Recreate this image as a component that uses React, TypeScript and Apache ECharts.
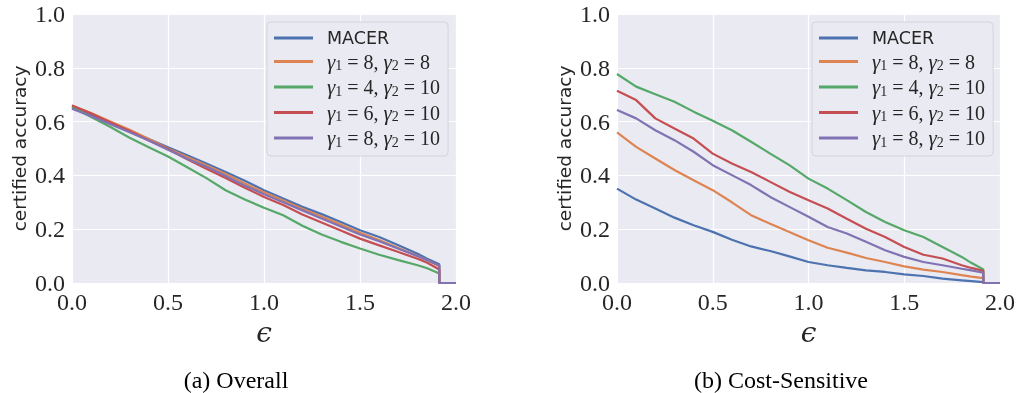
import React, { useEffect, useRef } from "react";
import * as echarts from "echarts";

const EPS = [0, 0.1, 0.2, 0.3, 0.4, 0.5, 0.6, 0.7, 0.8, 0.9, 1.0, 1.1, 1.2, 1.3, 1.4, 1.5, 1.6, 1.7, 1.8, 1.85, 1.913, 1.913, 2.0];

const SERIES_NAMES = ["MACER", "g8_8", "g4_10", "g6_10", "g8_10"];
const COLORS = ["#4C72B0", "#DD8452", "#55A868", "#C44E52", "#8172B3"];

// (a) Overall
const OVERALL_MACER = [0.65, 0.625, 0.595, 0.565, 0.535, 0.505, 0.475, 0.444, 0.413, 0.38, 0.345, 0.314, 0.283, 0.256, 0.227, 0.196, 0.171, 0.14, 0.109, 0.09, 0.07, 0, 0];
const OVERALL_G8_8 = [0.66, 0.632, 0.6, 0.57, 0.535, 0.5, 0.468, 0.438, 0.405, 0.37, 0.337, 0.307, 0.276, 0.247, 0.217, 0.187, 0.16, 0.13, 0.1, 0.085, 0.062, 0, 0];
const OVERALL_G4_10 = [0.655, 0.617, 0.58, 0.54, 0.505, 0.47, 0.43, 0.39, 0.345, 0.31, 0.28, 0.252, 0.213, 0.18, 0.153, 0.128, 0.105, 0.085, 0.066, 0.055, 0.035, 0, 0];
const OVERALL_G6_10 = [0.66, 0.63, 0.597, 0.565, 0.53, 0.498, 0.46, 0.425, 0.39, 0.354, 0.32, 0.29, 0.255, 0.225, 0.195, 0.165, 0.14, 0.115, 0.09, 0.075, 0.05, 0, 0];
const OVERALL_G8_10 = [0.648, 0.62, 0.59, 0.56, 0.53, 0.495, 0.462, 0.432, 0.398, 0.362, 0.33, 0.3, 0.27, 0.24, 0.21, 0.18, 0.155, 0.127, 0.1, 0.085, 0.065, 0, 0];

// (b) Cost-Sensitive
const COST_MACER = [0.351, 0.31, 0.277, 0.243, 0.215, 0.19, 0.161, 0.136, 0.119, 0.099, 0.078, 0.066, 0.056, 0.047, 0.041, 0.032, 0.026, 0.016, 0.01, 0.007, 0.003, 0, 0];
const COST_G8_8 = [0.56, 0.506, 0.463, 0.42, 0.382, 0.345, 0.3, 0.252, 0.22, 0.19, 0.159, 0.131, 0.113, 0.093, 0.078, 0.062, 0.05, 0.041, 0.029, 0.024, 0.018, 0, 0];
const COST_G4_10 = [0.777, 0.73, 0.702, 0.674, 0.637, 0.603, 0.568, 0.525, 0.481, 0.438, 0.388, 0.351, 0.308, 0.264, 0.227, 0.196, 0.171, 0.134, 0.097, 0.075, 0.05, 0, 0];
const COST_G6_10 = [0.715, 0.68, 0.612, 0.574, 0.537, 0.481, 0.444, 0.413, 0.376, 0.339, 0.308, 0.277, 0.239, 0.202, 0.171, 0.134, 0.105, 0.091, 0.066, 0.056, 0.045, 0, 0];
const COST_G8_10 = [0.643, 0.612, 0.568, 0.531, 0.488, 0.438, 0.401, 0.364, 0.32, 0.283, 0.246, 0.208, 0.184, 0.153, 0.122, 0.097, 0.078, 0.066, 0.053, 0.047, 0.038, 0, 0];

const OVERALL = [OVERALL_MACER, OVERALL_G8_8, OVERALL_G4_10, OVERALL_G6_10, OVERALL_G8_10];
const COST = [COST_MACER, COST_G8_8, COST_G4_10, COST_G6_10, COST_G8_10];

const LEGEND_LABELS: Record<string, string> = {
  MACER: "{m|MACER}",
  g8_8: "{g|γ}{s|1}{n| = 8, }{g|γ}{s|2}{n| = 8}",
  g4_10: "{g|γ}{s|1}{n| = 4, }{g|γ}{s|2}{n| = 10}",
  g6_10: "{g|γ}{s|1}{n| = 6, }{g|γ}{s|2}{n| = 10}",
  g8_10: "{g|γ}{s|1}{n| = 8, }{g|γ}{s|2}{n| = 10}",
};

const CAPTIONS = ["(a) Overall", "(b) Cost-Sensitive"];

const TEXT = "#262626";
const SERIF = "'Liberation Serif', serif";

export default function App() {
  const ref = useRef<HTMLDivElement>(null);
  useEffect(() => {
    if (!ref.current) return;
    const chart = echarts.init(ref.current, undefined, { renderer: "svg" });
    const grids = [
      { left: 72, top: 14, width: 384, height: 269 },
      { left: 617, top: 14, width: 384, height: 269 },
    ];
    const xAxis = grids.map((_, i) => ({
      type: "value",
      gridIndex: i,
      min: 0,
      max: 2,
      interval: 0.5,
      name: "ϵ",
      nameLocation: "middle",
      nameGap: 32,
      nameTextStyle: { fontFamily: "'DejaVu Serif', serif", fontStyle: "italic", fontSize: 28, color: TEXT },
      axisLine: { show: false },
      axisTick: { show: false },
      axisLabel: { fontFamily: SERIF, fontSize: 24, color: TEXT, margin: 7, formatter: (v: number) => v.toFixed(1) },
      splitLine: { show: true, lineStyle: { color: "#ffffff", width: 1.2 } },
    }));
    const yAxis = grids.map((_, i) => ({
      type: "value",
      gridIndex: i,
      min: 0,
      max: 1,
      interval: 0.2,
      name: "certified accuracy",
      nameLocation: "middle",
      nameGap: 43,
      nameTextStyle: { fontFamily: "'DejaVu Sans', sans-serif", fontSize: 18.5, color: TEXT },
      axisLine: { show: false },
      axisTick: { show: false },
      axisLabel: { fontFamily: SERIF, fontSize: 24, color: TEXT, margin: 7, formatter: (v: number) => v.toFixed(1) },
      splitLine: { show: true, lineStyle: { color: "#ffffff", width: 1.2 } },
    }));
    const series: any[] = [];
    [OVERALL, COST].forEach((set, gi) => {
      set.forEach((vals, si) => {
        series.push({
          type: "line",
          name: SERIES_NAMES[si],
          xAxisIndex: gi,
          yAxisIndex: gi,
          data: EPS.map((x, k) => [x, vals[k]]),
          showSymbol: false,
          symbol: "none",
          lineStyle: { width: 2.2, color: COLORS[si] },
          itemStyle: { color: COLORS[si] },
        });
      });
    });
    const legendBase = {
      orient: "vertical",
      top: 22,
      icon: "rect",
      itemWidth: 39,
      itemHeight: 3,
      itemGap: 4,
      padding: [7, 8, 7, 7],
      backgroundColor: "#EAEAF2",
      borderColor: "#d4d4da",
      borderWidth: 1,
      borderRadius: 4,
      data: SERIES_NAMES,
      formatter: (name: string) => LEGEND_LABELS[name],
      textStyle: {
        color: TEXT,
        padding: [0, 0, 0, 9],
        rich: {
          m: { fontFamily: "'DejaVu Sans', sans-serif", fontSize: 17.5, lineHeight: 22, color: TEXT },
          g: { fontFamily: SERIF, fontStyle: "italic", fontSize: 21, lineHeight: 22, color: TEXT },
          n: { fontFamily: SERIF, fontSize: 20, lineHeight: 22, color: TEXT },
          s: { fontFamily: SERIF, fontSize: 14, lineHeight: 14, verticalAlign: "bottom", color: TEXT },
        },
      },
    };
    chart.setOption({
      animation: false,
      grid: grids.map((g) => ({ ...g, show: true, backgroundColor: "#EAEAF2", borderWidth: 0 })),
      xAxis,
      yAxis,
      series,
      legend: [
        { ...legendBase, left: 267 },
        { ...legendBase, left: 812 },
      ],
      graphic: [
        { type: "text", x: 236, y: 380, style: { text: CAPTIONS[0], font: "24px " + SERIF, fill: "#000", align: "center", verticalAlign: "middle" } },
        { type: "text", x: 781, y: 380, style: { text: CAPTIONS[1], font: "24px " + SERIF, fill: "#000", align: "center", verticalAlign: "middle" } },
      ],
    });
    return () => chart.dispose();
  }, []);
  return <div ref={ref} style={{ position: "fixed", left: 0, top: 0, width: 1018, height: 393 }} />;
}
